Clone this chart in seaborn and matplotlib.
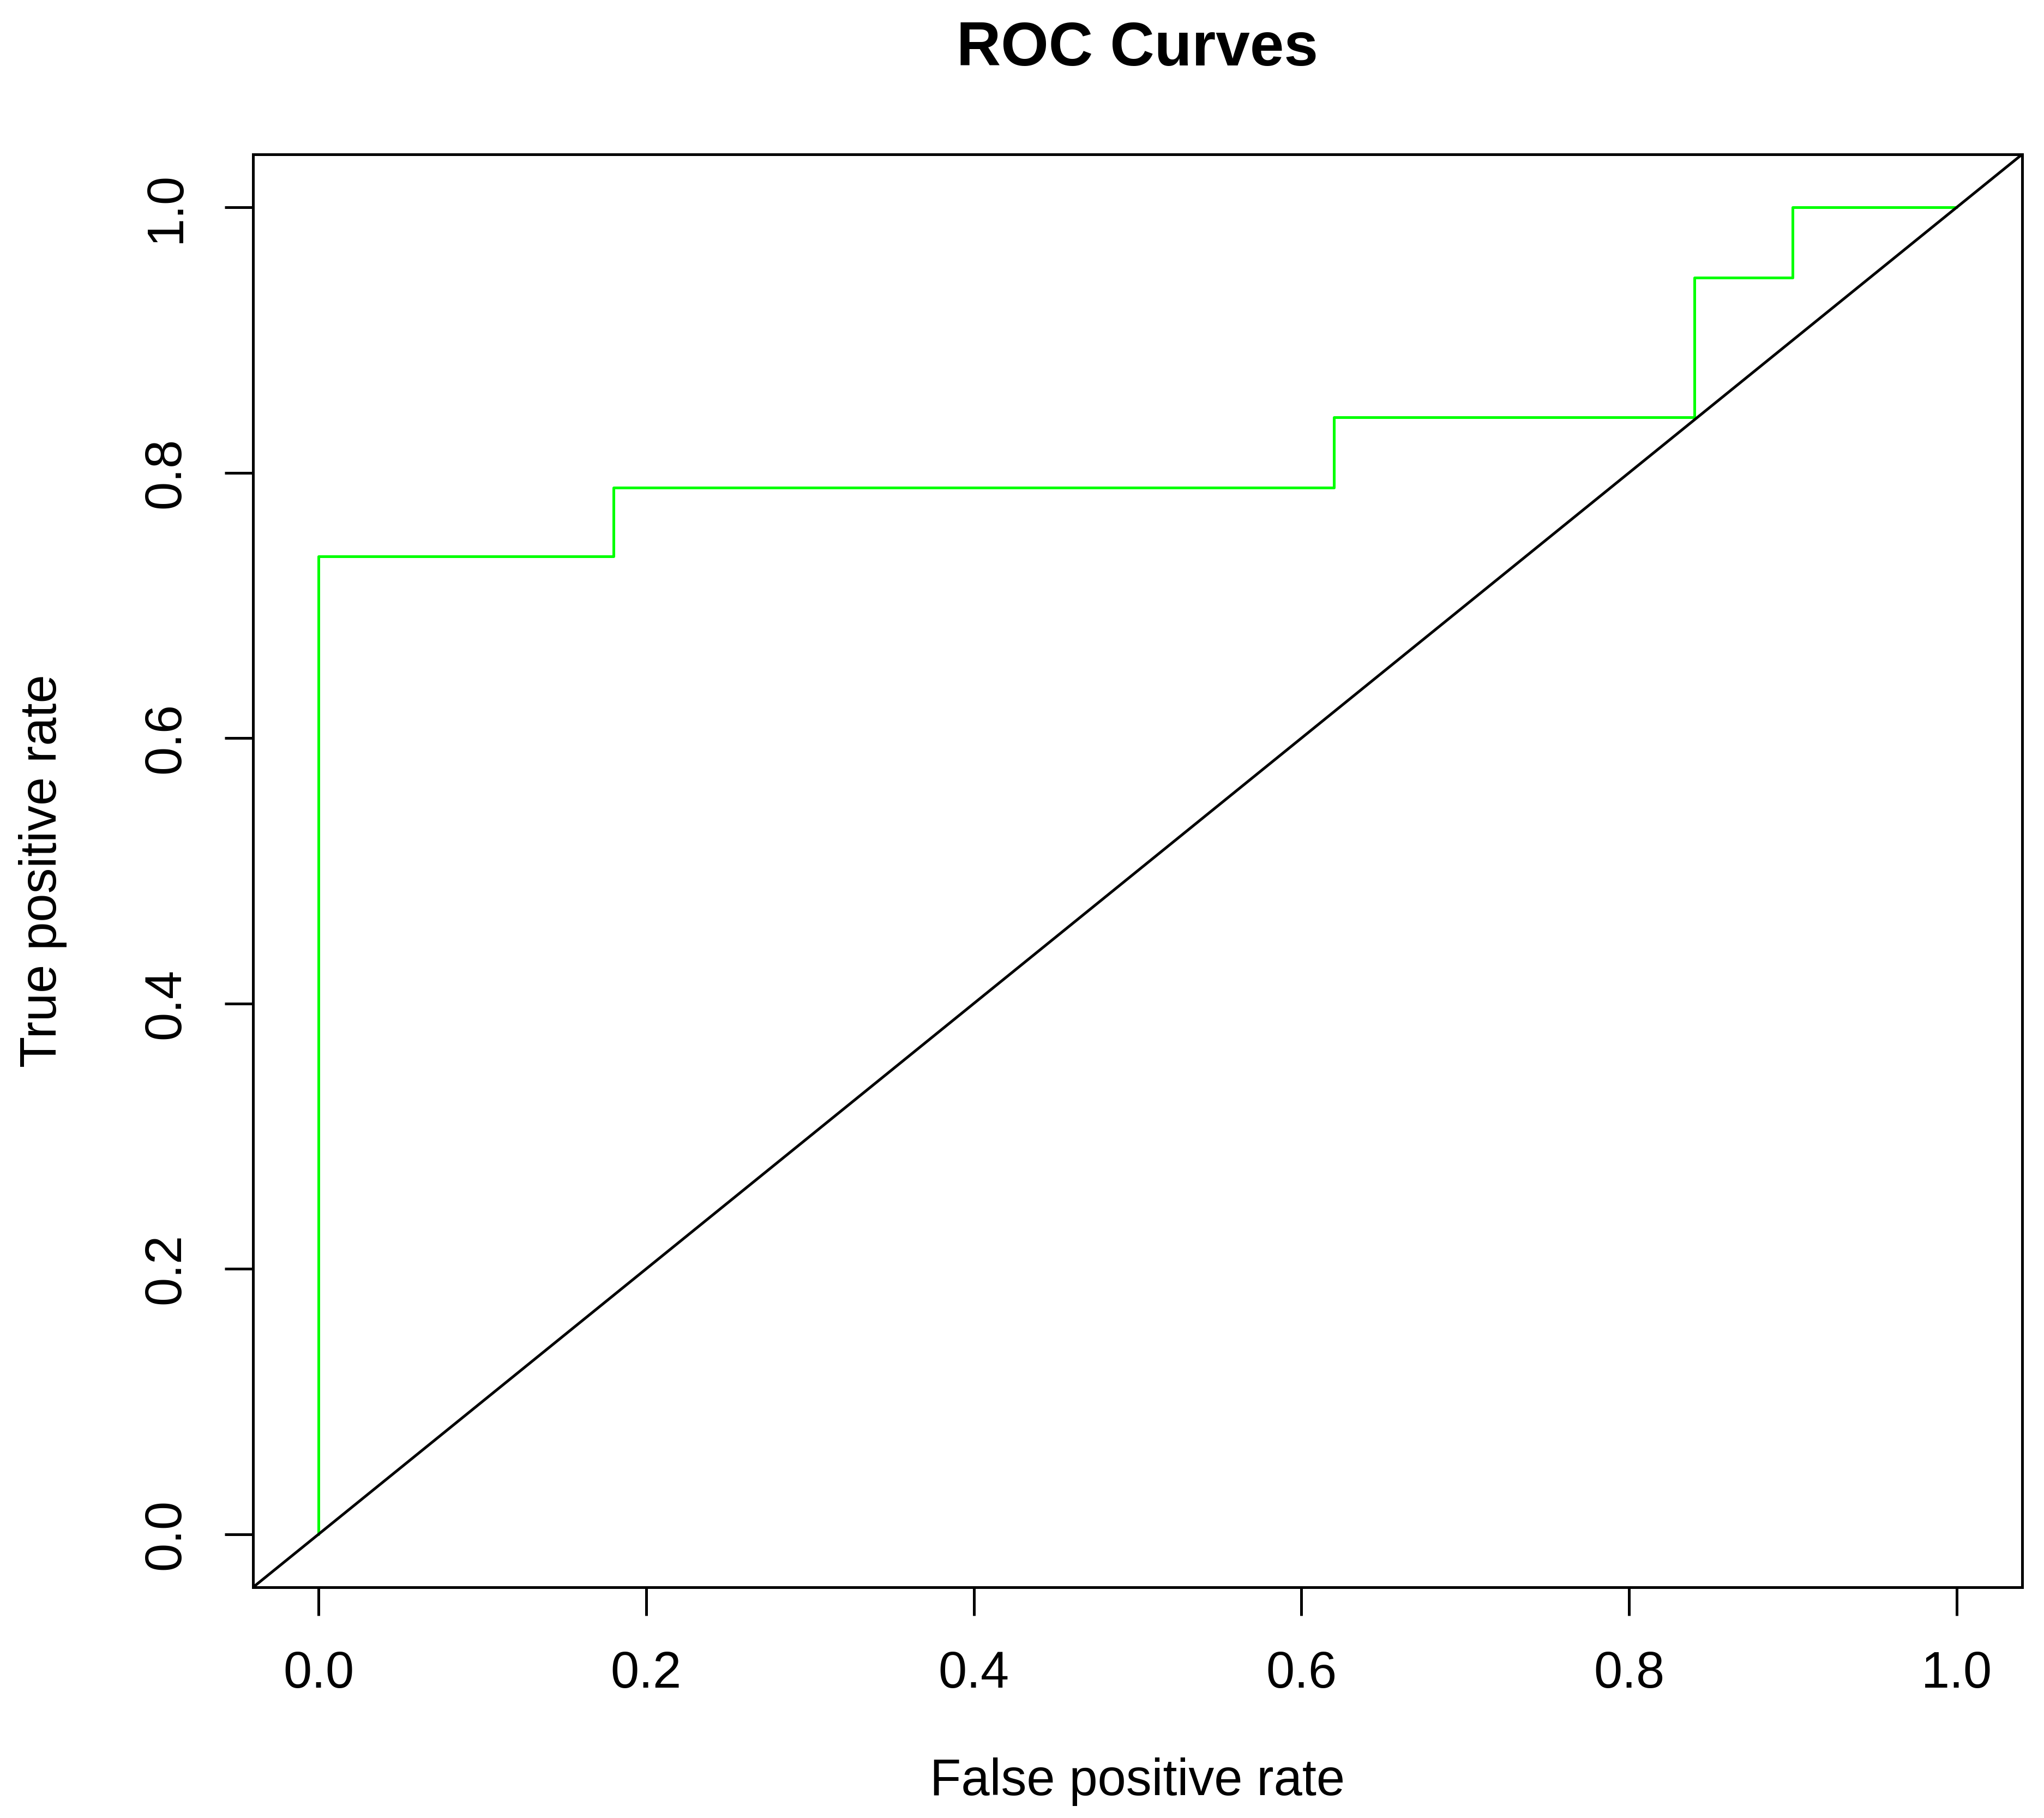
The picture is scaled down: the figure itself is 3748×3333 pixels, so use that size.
import matplotlib
matplotlib.use("Agg")
import matplotlib.pyplot as plt
import seaborn as sns
import pandas as pd

# ROC curve corner points (19 positives, 50 negatives)
fpr = [0.0, 0.0, 0.18, 0.18, 0.62, 0.62, 0.84, 0.84, 0.90, 0.90, 1.0]
tpr = [0.0, 0.737, 0.737, 0.789, 0.789, 0.842, 0.842, 0.947, 0.947, 1.0, 1.0]
ticks = [0.0, 0.2, 0.4, 0.6, 0.8, 1.0]
tick_labels = ["0.0", "0.2", "0.4", "0.6", "0.8", "1.0"]

sns.set_style("ticks")
plt.rcParams["font.family"] = ["Liberation Sans", "DejaVu Sans"]
plt.rcParams["text.color"] = "black"
plt.rcParams["axes.labelcolor"] = "black"

df = pd.DataFrame({"fpr": fpr, "tpr": tpr})

fig = plt.figure(figsize=(3748 / 300, 3333 / 300), dpi=300)
ax = fig.add_axes([0.1238, 0.1269, 0.9893 - 0.1238, 0.9151 - 0.1269])

sns.lineplot(data=df, x="fpr", y="tpr", estimator=None, sort=False,
             color="#00ff00", linewidth=1.2, ax=ax)
ax.axline((0, 0), (1, 1), color="black", linewidth=1.2)

ax.set_xlim(-0.04, 1.04)
ax.set_ylim(-0.04, 1.04)
ax.set_xticks(ticks)
ax.set_xticklabels(tick_labels)
ax.set_yticks(ticks)
ax.set_yticklabels(tick_labels, rotation=90, va="center")

for s in ax.spines.values():
    s.set_visible(True)
    s.set_linewidth(1.2)
    s.set_color("black")
ax.tick_params(axis="both", direction="out", length=12.5, width=1.2,
               labelsize=22.5, pad=15, colors="black")

ax.set_xlabel("False positive rate", fontsize=22.5, labelpad=26)
ax.set_ylabel("True positive rate", fontsize=22.5, labelpad=33)
ax.set_title("ROC Curves", fontsize=27, fontweight="bold", pad=39)

fig.savefig("out.png", dpi=300, facecolor="white")
